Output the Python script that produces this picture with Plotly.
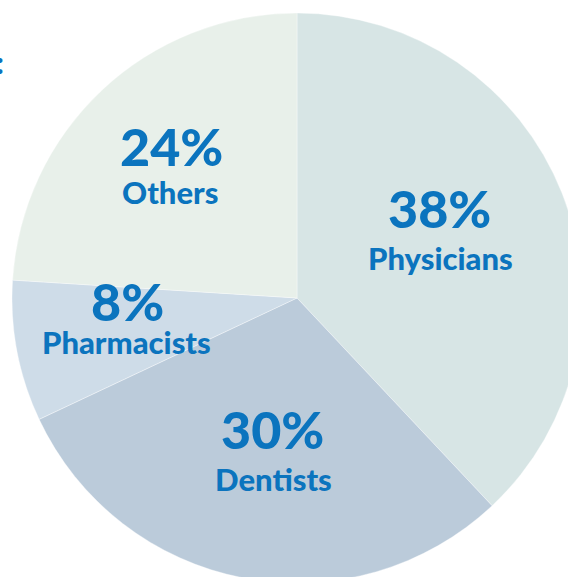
import plotly.graph_objects as go

# ---- data ----
categories = ["Physicians", "Dentists", "Pharmacists", "Others"]
shares = [38, 30, 8, 24]

# ---- style ----
slice_colors = ["#D7E5E5", "#BBCBDA", "#CEDCE8", "#E8F0EA"]
text_color = "#0B74BE"
font_family = "Lato, 'Open Sans', sans-serif"

W, H = 582, 583
L, T = 12, 13
D = 570  # pie diameter in px

def px_to_paper(px, py):
    return (px - L) / D, 1 - (py - T) / D

# label centres in pixels (pct line, name line)
label_pos = {
    "Physicians": ((439, 208), (440, 258)),
    "Dentists": ((272, 429), (273, 479)),
    "Pharmacists": ((127, 301), (126, 342)),
    "Others": ((171, 146), (170, 192)),
}

fig = go.Figure(
    go.Pie(
        labels=categories,
        values=shares,
        sort=False,
        direction="clockwise",
        rotation=0,
        marker=dict(colors=slice_colors, line=dict(color="rgba(255,255,255,0.6)", width=0.6)),
        textinfo="none",
        hoverinfo="skip",
        showlegend=False,
        domain=dict(x=[0, 1], y=[0, 1]),
    )
)

annotations = []
for cat, val in zip(categories, shares):
    (pxp, pyp), (pxn, pyn) = label_pos[cat]
    xp, yp = px_to_paper(pxp, pyp)
    xn, yn = px_to_paper(pxn, pyn)
    annotations.append(dict(x=xp, y=yp, xref="paper", yref="paper", text=f"{val}%",
                            showarrow=False, xanchor="center", yanchor="middle",
                            font=dict(family=font_family, size=52, color=text_color, weight=900)))
    annotations.append(dict(x=xn, y=yn, xref="paper", yref="paper", text=cat,
                            showarrow=False, xanchor="center", yanchor="middle",
                            font=dict(family=font_family, size=31, color=text_color, weight=900)))

# cropped title colon at the top-left
cx, cy = px_to_paper(6, 62)
annotations.append(dict(x=cx, y=cy, xref="paper", yref="paper", text=":",
                        showarrow=False, xanchor="right", yanchor="middle",
                        font=dict(family=font_family, size=30, color=text_color, weight=900)))

fig.update_layout(
    width=W, height=H,
    margin=dict(l=L, t=T, r=W - L - D, b=H - T - D, pad=0),
    paper_bgcolor="white", plot_bgcolor="white",
    annotations=annotations,
)

fig.write_html(
    "out.html",
    post_script="document.body.style.margin='0';document.body.style.overflow='hidden';"
                "document.documentElement.style.overflow='hidden';",
)
